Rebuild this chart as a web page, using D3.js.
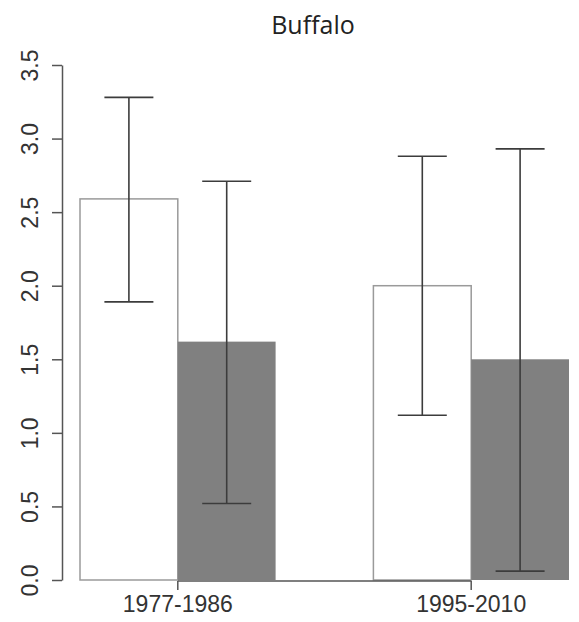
<!DOCTYPE html>
<html>
<head>
<meta charset="utf-8">
<script src="https://cdn.jsdelivr.net/npm/d3@7"></script>
<style>
  body { margin: 0; background: #fff; }
</style>
</head>
<body>
<div id="chart"></div>
<script>
// Data
const title = "Buffalo";
const periods = ["1977-1986", "1995-2010"];
const series = ["a", "b"];
const means = [[2.59, 1.62], [2.00, 1.50]];
const lower = [[1.89, 0.52], [1.12, 0.06]];
const upper = [[3.28, 2.71], [2.88, 2.93]];
const yTicks = [0, 0.5, 1, 1.5, 2, 2.5, 3, 3.5];
const fills = ["#ffffff", "#808080"];

const width = 579, height = 622;

const svg = d3.select("#chart").append("svg")
    .attr("width", width)
    .attr("height", height)
    .style("background", "#fff");

// Scales
const y = d3.scaleLinear().domain([0, 3.5]).range([580, 65]);
const x0 = d3.scaleBand().domain(periods).range([80, 569]).paddingInner(1 / 3).paddingOuter(0);
const x1 = d3.scaleBand().domain(series).range([0, x0.bandwidth()]).padding(0);

// flatten rows for drawing
const rows = [];
periods.forEach((p, g) => {
    series.forEach((s, i) => {
        rows.push({ period: p, s, i, mean: means[g][i], lo: lower[g][i], hi: upper[g][i] });
    });
});

// Bars
svg.append("g")
    .selectAll("rect")
    .data(rows)
    .join("rect")
    .attr("x", d => x0(d.period) + x1(d.s))
    .attr("y", d => y(d.mean))
    .attr("width", x1.bandwidth())
    .attr("height", d => y(0) - y(d.mean))
    .attr("fill", d => fills[d.i])
    .attr("stroke", d => d.i === 0 ? "#9a9a9a" : "none")
    .attr("stroke-width", 1.5);

// x axis: line runs between the first and the last tick (R style)
const xAxis = d3.axisBottom(x0).tickSize(9).tickPadding(6);
const gx = svg.append("g")
    .attr("transform", `translate(0, ${y(0) + 1})`)
    .call(xAxis);
gx.select(".domain").remove();
const centers = periods.map(p => x0(p) + x0.bandwidth() / 2);
gx.append("line")
    .attr("x1", centers[0])
    .attr("x2", centers[centers.length - 1])
    .attr("stroke", "#555")
    .attr("stroke-width", 1.5);
gx.selectAll(".tick line").attr("stroke", "#555").attr("stroke-width", 1.5);
gx.selectAll(".tick text")
    .attr("fill", "#333")
    .style("font-size", "23px")
    .style("font-family", "Liberation Sans, Arial, sans-serif");

// y axis
const yAxis = d3.axisLeft(y).tickValues(yTicks).tickSize(10).tickSizeOuter(0)
    .tickFormat(d3.format(".1f"));
const gy = svg.append("g")
    .attr("transform", "translate(62, 0)")
    .call(yAxis);
gy.select(".domain").attr("stroke", "#555").attr("stroke-width", 1.5);
gy.selectAll(".tick line").attr("stroke", "#555").attr("stroke-width", 1.5);
gy.selectAll(".tick text")
    .attr("x", 0)
    .attr("y", -24)
    .attr("dy", null)
    .attr("transform", "rotate(-90)")
    .style("text-anchor", "middle")
    .attr("fill", "#333")
    .style("font-size", "23px")
    .style("font-family", "Liberation Sans, Arial, sans-serif");

// Error bars
const capHalf = 24.5;
const err = svg.append("g")
    .attr("stroke", "#3c3c3c")
    .attr("stroke-width", 1.6)
    .selectAll("g")
    .data(rows)
    .join("g")
    .attr("transform", d => `translate(${x0(d.period) + x1(d.s) + x1.bandwidth() / 2}, 0)`);
err.append("line")
    .attr("y1", d => y(d.lo))
    .attr("y2", d => y(d.hi));
err.append("line")
    .attr("x1", -capHalf).attr("x2", capHalf)
    .attr("y1", d => y(d.hi)).attr("y2", d => y(d.hi));
err.append("line")
    .attr("x1", -capHalf).attr("x2", capHalf)
    .attr("y1", d => y(d.lo)).attr("y2", d => y(d.lo));

// Title
svg.append("text")
    .attr("x", 313)
    .attr("y", 34)
    .style("text-anchor", "middle")
    .style("font-size", "25px")
    .style("font-family", "Open Sans, sans-serif")
    .attr("fill", "#222")
    .text(title);
</script>
</body>
</html>
